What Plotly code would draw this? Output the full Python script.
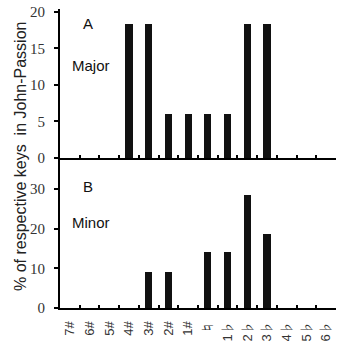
import plotly.graph_objects as go

keys = ["7#", "6#", "5#", "4#", "3#", "2#", "1#", "♮", "1♭", "2♭", "3♭", "4♭", "5♭", "6♭"]
major = [0, 0, 0, 18.4, 18.4, 6, 6, 6, 6, 18.4, 18.4, 0, 0, 0]
minor = [0, 0, 0, 0, 9.2, 9.2, 0, 14, 14, 28.4, 18.7, 0, 0, 0]

top_ticks = [0, 5, 10, 15, 20]
bot_ticks = [0, 10, 20, 30]

fig = go.Figure()
fig.add_trace(go.Bar(x=keys, y=major, width=0.36, marker=dict(color="#111", line=dict(width=0)),
                     xaxis="x", yaxis="y"))
fig.add_trace(go.Bar(x=keys, y=minor, width=0.36, marker=dict(color="#111", line=dict(width=0)),
                     xaxis="x2", yaxis="y2"))

axfont = dict(family="'Liberation Serif', 'Times New Roman', serif", size=15, color="#333")
xcommon = dict(type="category", categoryorder="array", categoryarray=keys,
               range=[-0.5, 13.5], showline=True, linecolor="#000", linewidth=2,
               ticks="inside", tickson="boundaries", ticklen=3, tickcolor="#000", tickwidth=2,
               showgrid=False, zeroline=False, automargin=False)
fig.update_layout(
    width=340, height=341, margin=dict(l=60, r=4, t=9, b=33),
    paper_bgcolor="white", plot_bgcolor="white", showlegend=False, bargap=0,
    xaxis=dict(**xcommon, anchor="y", showticklabels=False),
    xaxis2=dict(**xcommon, anchor="y2", tickangle=-90, ticklabelstandoff=6,
                tickfont=dict(family="'Liberation Sans', 'Noto Sans CJK JP'", size=13, color="#333")),
    yaxis=dict(domain=[0.5017, 1], range=[0, 20.4], tickvals=top_ticks, showline=True,
               linecolor="#000", linewidth=2, ticks="outside", ticklen=4, tickcolor="#000",
               tickwidth=2, showgrid=False, zeroline=False, tickfont=axfont, ticklabelstandoff=6,
               automargin=False),
    yaxis2=dict(domain=[0, 0.5017], range=[0, 37.8], tickvals=bot_ticks, showline=True,
                linecolor="#000", linewidth=2, ticks="outside", ticklen=4, tickcolor="#000",
                tickwidth=2, showgrid=False, zeroline=False, tickfont=axfont, ticklabelstandoff=6,
                automargin=False),
)

ann = dict(showarrow=False, font=dict(family="Liberation Sans", size=15, color="#111"))
for txt, px, py in [("A", 88, 24), ("Major", 91, 65), ("B", 88, 186), ("Minor", 91, 222)]:
    fig.add_annotation(x=(px - 60) / 276, y=(308 - py) / 299, xref="paper", yref="paper",
                       text=txt, xanchor="center", yanchor="middle", **ann)
fig.add_annotation(x=(20 - 60) / 276, y=(308 - 157) / 299, xref="paper", yref="paper",
                   text="% of respective keys&nbsp; in John-Passion", textangle=-90,
                   xanchor="center", yanchor="middle", showarrow=False,
                   font=dict(family="Liberation Sans", size=16, color="#222"))

fig.write_html("out.html")
